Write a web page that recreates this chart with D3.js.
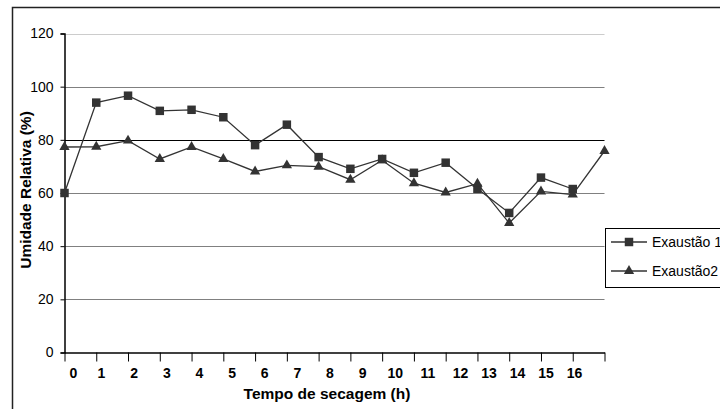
<!DOCTYPE html>
<html>
<head>
<meta charset="utf-8">
<script src="https://cdn.jsdelivr.net/npm/d3@7/dist/d3.min.js"></script>
<style>
  html, body { margin: 0; padding: 0; background: #fff; }
  svg { display: block; font-family: Arial, "Liberation Sans", sans-serif; }
</style>
</head>
<body>
<svg id="chart" width="720" height="409"></svg>
<script>
// ---- data ----
const hours = [0,1,2,3,4,5,6,7,8,9,10,11,12,13,14,15,16,17];
const xTickLabels = ["0","1","2","3","4","5","6","7","8","9","10","11","12","13","14","15","16"];
const exaustao1 = [60, 94, 96.6, 90.9, 91.3, 88.5, 78, 85.7, 73.5, 69.1, 72.8, 67.6, 71.4, 61.6, 52.5, 65.8, 61.5];
const exaustao2 = [77.3, 77.4, 79.7, 72.8, 77.3, 72.8, 68.1, 70.4, 69.9, 65, 72.3, 63.7, 60.2, 63.5, 48.7, 60.6, 59.4, 75.8];
const yTicks = [0, 20, 40, 60, 80, 100, 120];
const seriesNames = ["Exaustão 1", "Exaustão2"];

const svg = d3.select("#chart");
const ink = "#333";

// frame
svg.append("path").attr("d", "M12.5,409 L12.5,7.5 L720,7.5")
  .attr("fill", "none").attr("stroke", "#222").attr("stroke-width", 1.5);

const x = d3.scaleLinear().domain([0, 17]).range([64.5, 604.5]);
const y = d3.scaleLinear().domain([0, 120]).range([352.5, 33.5]);
const xLab = d3.scaleLinear().domain([0, 1, 12, 16]).range([73, 101, 460, 574]);

// gridlines
const gridColor = v => v === 120 ? "#cccccc" : (v === 80 ? "#000" : "#808080");
svg.append("g").selectAll("line").data(yTicks.filter(v => v > 0)).join("line")
  .attr("x1", x(0)).attr("x2", x(17))
  .attr("y1", d => Math.round(y(d)) + 0.5).attr("y2", d => Math.round(y(d)) + 0.5)
  .attr("stroke", gridColor).attr("stroke-width", 1.2);

// y axis
const yAxis = svg.append("g").attr("transform", `translate(${x(0)},0)`)
  .call(d3.axisLeft(y).tickValues(yTicks).tickSize(4).tickPadding(7).tickFormat(d3.format("d")));
yAxis.select(".domain").attr("stroke", "#000").attr("stroke-width", 1.5);
yAxis.selectAll(".tick line").attr("stroke", "#000");
yAxis.selectAll("text").attr("font-size", 14).attr("fill", "#000")
  .attr("font-family", "Arial, 'Liberation Sans', sans-serif");

// x axis ticks
const xAxis = svg.append("g").attr("transform", `translate(0,${y(0)})`)
  .call(d3.axisBottom(x).tickValues(hours).tickSize(9).tickSizeOuter(0).tickFormat(""));
xAxis.select(".domain").attr("stroke", "#000").attr("stroke-width", 1.5);
xAxis.selectAll(".tick line").attr("stroke", "#000");

// x labels
const xLabAxis = svg.append("g").attr("transform", `translate(0,${y(0)})`)
  .call(d3.axisBottom(xLab).tickValues(d3.range(xTickLabels.length)).tickSize(0).tickPadding(16)
    .tickFormat(i => xTickLabels[i]));
xLabAxis.select(".domain").remove();
xLabAxis.selectAll("text").attr("font-size", 14).attr("font-weight", "bold").attr("fill", "#000")
  .attr("font-family", "Arial, 'Liberation Sans', sans-serif");

// axis titles
svg.append("text").attr("x", 327).attr("y", 399).attr("text-anchor", "middle")
  .attr("font-size", 15.5).attr("font-weight", "bold").text("Tempo de secagem (h)");
svg.append("text").attr("transform", "translate(31,190) rotate(-90)").attr("text-anchor", "middle")
  .attr("font-size", 15.5).attr("font-weight", "bold").text("Umidade Relativa (%)");

// lines
const line = d3.line().x((d, i) => x(hours[i])).y(d => y(d));
[exaustao1, exaustao2].forEach(s => {
  svg.append("path").datum(s).attr("d", line).attr("fill", "none")
    .attr("stroke", ink).attr("stroke-width", 1.3);
});

const sq = d3.symbol().type(d3.symbolSquare).size(72);
const tri = d3.symbol().type(d3.symbolTriangle).size(46);

svg.append("g").selectAll("path").data(exaustao1).join("path")
  .attr("transform", (d, i) => `translate(${x(hours[i])},${y(d)})`)
  .attr("d", sq).attr("fill", ink);
svg.append("g").selectAll("path").data(exaustao2).join("path")
  .attr("transform", (d, i) => `translate(${x(hours[i])},${y(d)})`)
  .attr("d", tri).attr("fill", ink);

// legend
const lg = svg.append("g");
lg.append("rect").attr("x", 605.5).attr("y", 228.5).attr("width", 130).attr("height", 59)
  .attr("fill", "#fff").attr("stroke", "#000").attr("stroke-width", 1);
const legendY = [242, 271];
seriesNames.forEach((name, i) => {
  lg.append("line").attr("x1", 611).attr("x2", 647).attr("y1", legendY[i]).attr("y2", legendY[i])
    .attr("stroke", ink).attr("stroke-width", 1.3);
  lg.append("path").attr("transform", `translate(629,${legendY[i]})`)
    .attr("d", i === 0 ? sq : tri).attr("fill", ink);
  lg.append("text").attr("x", 652).attr("y", legendY[i] + 5).attr("font-size", 14).text(name);
});
</script>
</body>
</html>
